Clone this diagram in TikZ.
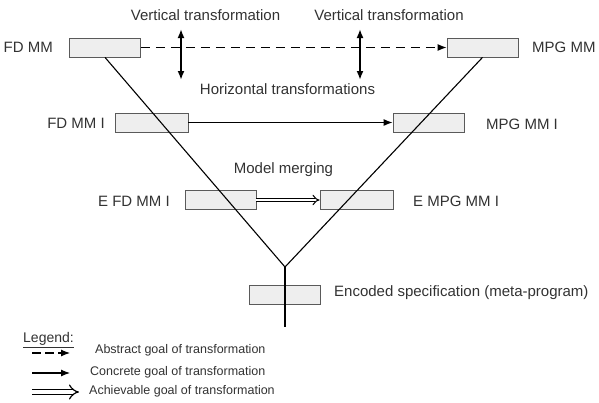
\documentclass[tikz,border=0pt]{standalone}
\usepackage{fontspec}
\setmainfont{Liberation Sans}
\usetikzlibrary{arrows.meta,positioning}
\definecolor{BoxGray}{RGB}{238,238,238}
\definecolor{EdgeGray}{RGB}{90,90,90}
\definecolor{TextGray}{RGB}{50,50,50}

\begin{document}
\begin{tikzpicture}[x=1pt,y=-1pt,>={Latex[length=9pt,width=7pt]},
  mmbox/.style={draw=EdgeGray,fill=BoxGray,minimum width=71pt,minimum height=19pt,inner sep=0pt,line width=0.8pt},
  lbl/.style={text=TextGray,font=\fontsize{15}{17}\selectfont,inner sep=0pt},
  leg/.style={text=TextGray,font=\fontsize{12.5}{14}\selectfont,inner sep=0pt,anchor=west},
  link/.style={line width=1.1pt},
  achieve/.style={double,double distance=2.6pt,line width=1pt,-{Implies[scale=1.5]}}]
\useasboundingbox (0,0) rectangle (599,402);
% model boxes
\node[mmbox] (fdmm) at (105,47.5) {};
\node[mmbox] (mpgmm) at (482.5,47.5) {};
\node[mmbox,minimum width=73pt] (fdmmi) at (151.5,122.5) {};
\node[mmbox] (mpgmmi) at (428.5,122.5) {};
\node[mmbox] (efdmmi) at (220.5,200) {};
\node[mmbox,minimum width=73pt] (empgmmi) at (356.5,200) {};
\node[mmbox] (encspec) at (284.5,295) {};
% box labels
\node[lbl,anchor=east] (fdmmlbl) at (53,47) {FD MM};
\node[lbl,anchor=west] (mpgmmlbl) at (532,47) {MPG MM};
\node[lbl,anchor=east] (fdmmilbl) at (105,123) {FD MM I};
\node[lbl,anchor=west] (mpgmmilbl) at (486,124) {MPG MM I};
\node[lbl,anchor=east] (efdmmilbl) at (170,201) {E FD MM I};
\node[lbl,anchor=west] (empgmmilbl) at (413,201) {E MPG MM I};
\node[lbl,anchor=west] (enclbl) at (334,293) {Encoded specification (meta-program)};
% other texts
\node[lbl] (vt1) at (205.5,15) {Vertical transformation};
\node[lbl] (vt2) at (389,15) {Vertical transformation};
\node[lbl] (ht) at (287.5,89) {Horizontal transformations};
\node[lbl] (merge) at (283.5,170) {Model merging};
% the V down to the meta-program
\coordinate (join) at (285,267);
\coordinate (bottom) at (285,327);
\draw[link] (fdmm.south) -- (join);
\draw[link] (mpgmm.south) -- (join);
\draw[link] (join) -- (bottom);
% goals of transformation
\draw[->,link,dash pattern=on 9pt off 6pt] (fdmm.east) -- (mpgmm.west);
\draw[->,link] (fdmmi.east) -- (mpgmmi.west);
\draw[achieve] (efdmmi.east) -- (empgmmi.west);
% vertical transformations
\coordinate (v1top) at (181,29);
\coordinate (v1bot) at (181,80);
\coordinate (v2top) at (360,29);
\coordinate (v2bot) at (360,80);
\draw[<->,line width=1.8pt] (v1top) -- (v1bot);
\draw[<->,line width=1.8pt] (v2top) -- (v2bot);
% legend
\node[lbl,font=\fontsize{14}{16}\selectfont,anchor=west] (legtitle) at (23,340) {\underline{Legend:}};
\coordinate (la1) at (32,353);
\coordinate (lb1) at (70,353);
\coordinate (la2) at (32,373);
\coordinate (lb2) at (70,373);
\coordinate (la3) at (32,392);
\coordinate (lb3) at (79,392);
\draw[->,link,dash pattern=on 9pt off 4pt] (la1) -- (lb1);
\draw[->,link] (la2) -- (lb2);
\draw[achieve,double distance=4pt,line width=1.2pt] (la3) -- (lb3);
\node[leg] (abstract) at (95,350) {Abstract goal of transformation};
\node[leg] (concrete) at (90,372) {Concrete goal of transformation};
\node[leg] (achievable) at (89,391) {Achievable goal of transformation};
\end{tikzpicture}
\end{document}
